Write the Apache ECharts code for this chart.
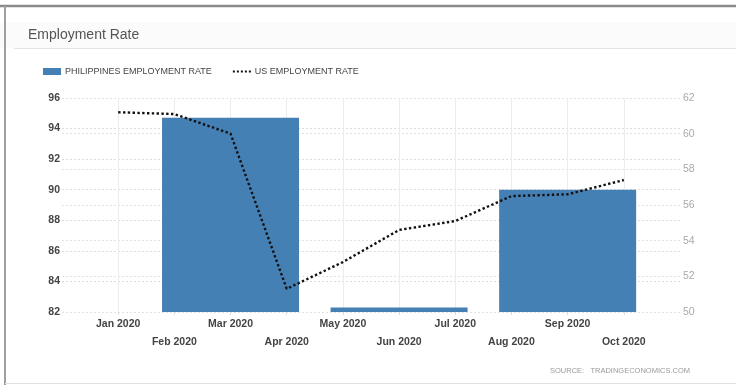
<!DOCTYPE html>
<html>
<head>
<meta charset="utf-8">
<script src="https://cdn.jsdelivr.net/npm/echarts@6/dist/echarts.min.js"></script>
<style>
  html, body { margin: 0; padding: 0; background: #fff; }
  #chart { width: 736px; height: 385px; }
</style>
</head>
<body>
<div id="chart"></div>
<script>
// Monthly category axis; the first and last slots only pad the plot edges.
const months = ['Dec 2019', 'Jan 2020', 'Feb 2020', 'Mar 2020', 'Apr 2020', 'May 2020',
                'Jun 2020', 'Jul 2020', 'Aug 2020', 'Sep 2020', 'Oct 2020', 'Nov 2020'];
// Philippines employment rate (%), quarterly survey results
const phEmployment = [null, null, null, 94.7, null, null, 82.3, null, null, 90.0, null, null];
// US employment rate (%), monthly
const usEmployment = [null, 61.2, 61.1, 60.0, 51.3, 52.8, 54.6, 55.1, 56.5, 56.6, 57.4, null];
const leftTicks = { min: 82, max: 96, step: 2 };
const rightTicks = { min: 50, max: 62, step: 2 };

const chart = echarts.init(document.getElementById('chart'), null, { renderer: 'canvas' });
const font = '"Liberation Sans", Arial, sans-serif';
const last = months.length - 1;

chart.setOption({
  animation: false,
  backgroundColor: '#fff',
  title: {
    text: 'Employment Rate',
    left: 23, top: 23,
    textStyle: { fontFamily: font, fontSize: 14, fontWeight: 'normal', color: '#555' }
  },
  legend: {
    left: 38, top: 62,
    itemWidth: 18, itemHeight: 7, itemGap: 20,
    textStyle: { fontFamily: font, fontSize: 9, color: '#444', padding: [0, 0, 0, -1] },
    data: [
      { name: 'PHILIPPINES EMPLOYMENT RATE', icon: 'rect' },
      { name: 'US EMPLOYMENT RATE', itemStyle: { opacity: 0 } }
    ]
  },
  grid: { left: 62, right: 56, top: 98, bottom: 73, containLabel: false },
  xAxis: {
    type: 'category',
    data: months,
    boundaryGap: false,
    axisLine: { show: false },
    axisTick: {
      show: true, length: 3, inside: false,
      interval: (i) => i > 0 && i < last,
      lineStyle: { color: '#ddd' }
    },
    splitLine: {
      show: true,
      interval: (i) => i > 0 && i < last,
      lineStyle: { color: '#ececec', width: 1 }
    },
    axisLabel: {
      interval: 0,
      margin: 3,
      fontFamily: font, fontSize: 10.5, fontWeight: 'bold', color: '#444',
      lineHeight: 18,
      formatter: (v, i) => {
        if (i === 0 || i === last) return '';
        return i % 2 === 0 ? '\n' + v : v;
      }
    }
  },
  yAxis: [
    {
      type: 'value',
      min: leftTicks.min, max: leftTicks.max, interval: leftTicks.step,
      axisLine: { show: false }, axisTick: { show: false },
      splitLine: { lineStyle: { color: '#dcdcdc', type: [2, 2] } },
      axisLabel: { margin: 2, fontFamily: font, fontSize: 10.5, fontWeight: 'bold', color: '#444' }
    },
    {
      type: 'value',
      min: rightTicks.min, max: rightTicks.max, interval: rightTicks.step,
      position: 'right',
      axisLine: { show: false }, axisTick: { show: false },
      splitLine: { lineStyle: { color: '#e2e2e2', type: [2, 2] } },
      axisLabel: { margin: 3, fontFamily: font, fontSize: 10.5, color: '#aaa' }
    }
  ],
  series: [
    {
      name: 'PHILIPPINES EMPLOYMENT RATE',
      type: 'bar',
      yAxisIndex: 0,
      data: phEmployment,
      barWidth: 137,
      itemStyle: { color: '#4580B5' },
      z: 2
    },
    {
      name: 'US EMPLOYMENT RATE',
      type: 'line',
      yAxisIndex: 1,
      data: usEmployment,
      symbol: 'none',
      connectNulls: false,
      lineStyle: { color: '#111', width: 2.4, type: 'dotted' },
      itemStyle: { color: '#111' },
      z: 3
    }
  ],
  graphic: [
    // panel frame
    { type: 'rect', shape: { x: 0, y: 22, width: 736, height: 26 }, style: { fill: '#fbfbfb' }, z: -10, silent: true },
    { type: 'line', shape: { x1: 14, y1: 48.5, x2: 736, y2: 48.5 }, style: { stroke: '#e4e4e4', lineWidth: 1 }, silent: true },
    { type: 'line', shape: { x1: 0, y1: 6, x2: 736, y2: 6 }, style: { stroke: '#8a8a8a', lineWidth: 2.5 }, silent: true },
    { type: 'line', shape: { x1: 5, y1: 6, x2: 5, y2: 385 }, style: { stroke: '#a0a0a0', lineWidth: 2 }, silent: true },
    { type: 'line', shape: { x1: 5, y1: 383.5, x2: 736, y2: 383.5 }, style: { stroke: '#e0e0e0', lineWidth: 1 }, silent: true },
    {
      type: 'text', right: 46, top: 367,
      style: { text: 'SOURCE:   TRADINGECONOMICS.COM', fill: '#9a9a9a', font: '7.5px ' + font }
    }
  ]
});
</script>
</body>
</html>
